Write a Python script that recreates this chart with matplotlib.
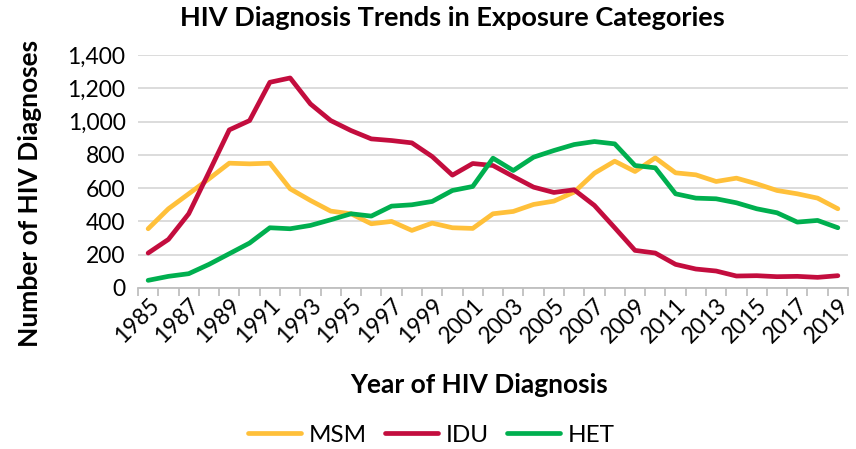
import matplotlib
matplotlib.use("Agg")
import matplotlib.pyplot as plt
from matplotlib.ticker import FuncFormatter, FixedLocator
import numpy as np

years = list(range(1985, 2020))
msm = [356, 476, 566, 656, 750, 746, 750, 596, 526, 462, 446, 386, 400, 346, 390, 362,
       358, 446, 460, 502, 522, 576, 690, 762, 700, 782, 692, 680, 640, 660, 626, 586,
       566, 540, 476]
idu = [210, 292, 446, 696, 950, 1006, 1236, 1262, 1106, 1006, 946, 896, 886, 872, 790, 678,
       748, 736, 670, 606, 574, 590, 496, 362, 226, 210, 142, 114, 102, 72, 74, 68,
       70, 64, 74]
het = [46, 70, 86, 142, 206, 270, 362, 356, 376, 410, 446, 432, 492, 500, 520, 586,
       610, 780, 706, 786, 826, 862, 880, 866, 736, 722, 566, 540, 536, 512, 476, 452,
       396, 406, 362]
series_names = ["MSM", "IDU", "HET"]
colors = ["#FFC03A", "#C30D3E", "#00AF4F"]

plt.rcParams['font.family'] = ['Lato', 'DejaVu Sans']

fig = plt.figure(figsize=(8.56, 4.49), dpi=100)
ax = fig.add_axes([138/856, 1-288/449, (848-138)/856, (288-55)/449])

x = np.arange(len(years))
lines = []
for vals, name, c in zip([msm, idu, het], series_names, colors):
    ln, = ax.plot(x, vals, color=c, lw=3.4, label=name, solid_joinstyle='round',
                  solid_capstyle='round', zorder=3)
    lines.append(ln)

ax.set_xlim(-0.5, len(years) - 0.5)
ax.set_ylim(0, 1400)
ax.set_yticks(range(0, 1401, 200))
ax.yaxis.set_major_formatter(FuncFormatter(lambda v, p: f"{int(v):,}"))
ax.grid(axis='y', color='#D9D9D9', lw=1.3, zorder=0)
for s in ['left', 'right', 'top']:
    ax.spines[s].set_visible(False)
ax.spines['bottom'].set_color('#BFBFBF')
ax.spines['bottom'].set_linewidth(1.3)
ax.tick_params(axis='y', length=0, labelsize=16.5, pad=9)

ax.xaxis.set_major_locator(FixedLocator(np.arange(-0.5, len(years), 1.0)))
ax.xaxis.set_minor_locator(FixedLocator(x[::2]))
ax.set_xticklabels([])
ax.set_xticklabels([str(y) for y in years[::2]], minor=True)
ax.tick_params(axis='x', which='major', length=6, color='#BFBFBF', width=1.3)
ax.tick_params(axis='x', which='minor', length=0, labelsize=16.5, pad=5)
for lab in ax.get_xticklabels(minor=True):
    lab.set_rotation(45)
    lab.set_ha('right')
    lab.set_va('top')
    lab.set_rotation_mode('anchor')

fig.text(452/856, 1-18/449, "HIV Diagnosis Trends in Exposure Categories",
         ha='center', va='center', fontsize=19.5, fontweight='bold')
fig.text(30/856, 1-193/449, "Number of HIV Diagnoses", rotation=90,
         ha='center', va='center', fontsize=19, fontweight='bold')
fig.text(479/856, 1-385/449, "Year of HIV Diagnosis",
         ha='center', va='center', fontsize=19, fontweight='bold')

fig.legend(handles=lines, loc='center', bbox_to_anchor=(431/856, 1-435/449),
           ncol=3, frameon=False, fontsize=17.5, handlelength=2.2, handletextpad=0.3,
           columnspacing=0.75)

fig.savefig("out.png", dpi=100)
